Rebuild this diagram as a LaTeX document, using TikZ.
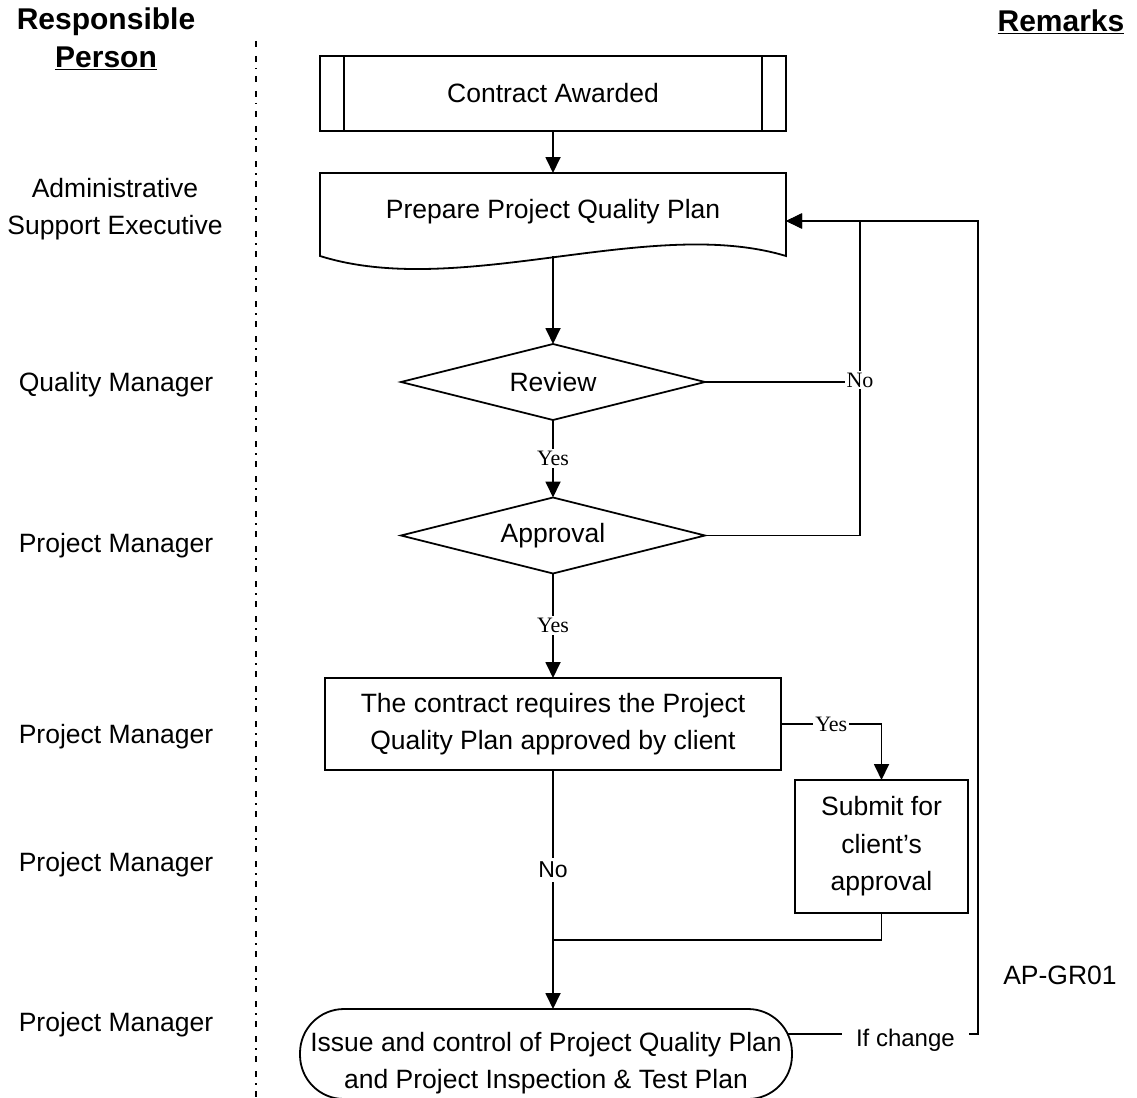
\documentclass[tikz,border=0pt]{standalone}
\usepackage{fontspec}
\setmainfont{Liberation Sans}
\newfontfamily\lblserif{Liberation Serif}
\usetikzlibrary{shapes.geometric,arrows.meta}
\begin{document}
\begin{tikzpicture}[x=1pt,y=-1pt,
  line width=1.8pt,
  every node/.style={inner sep=0pt,outer sep=0pt},
  big/.style={font=\fontsize{26.5}{37.5}\selectfont},
  head/.style={font=\fontsize{30}{34}\selectfont\bfseries},
  box/.style={draw,rectangle,big,align=center},
  dec/.style={draw,diamond,aspect=4,minimum width=304pt,minimum height=76pt,big},
  lbl/.style={fill=white,font=\lblserif\fontsize{22}{24}\selectfont,inner sep=2pt},
  slbl/.style={fill=white,font=\fontsize{23}{26}\selectfont,inner sep=4pt},
  arr/.style={-{Triangle[width=15pt,length=16pt]}},
  person/.style={big,align=center},
  lane/.style={line width=1.5pt,dash pattern=on 6pt off 9pt on 6pt off 6pt on 1.5pt off 6.5pt},
]
\useasboundingbox (0,0) rectangle (1137,1097);

% headers
\node[head] (h1) at (106,22) {Responsible};
\node[head] (h2) at (106,58) {\underline{Person}};
\node[head] (h3) at (1061,22) {\underline{Remarks}};
\draw[lane] (256,41) -- (256,1097);

% responsible persons
\node[person] (p1) at (115,209) {Administrative\\Support Executive};
\node[person] (p2) at (116,385) {Quality Manager};
\node[person] (p3) at (116,546) {Project Manager};
\node[person] (p4) at (116,737) {Project Manager};
\node[person] (p5) at (116,865) {Project Manager};
\node[person] (p6) at (116,1025) {Project Manager};
\node[big] (rm) at (1060,975) {AP-GR01};

% flow nodes
\node[box,minimum width=466pt,minimum height=75pt] (ca) at (553,93.5) {Contract Awarded};
\draw ([xshift=24pt]ca.north west) -- ([xshift=24pt]ca.south west);
\draw ([xshift=-24pt]ca.north east) -- ([xshift=-24pt]ca.south east);

\node[big,minimum width=466pt,minimum height=83pt] (prep) at (553,214.5) {};
\node[big] (prept) at (553,212) {Prepare Project Quality Plan};
\draw (prep.south east) .. controls (650,215) and (460,300) .. (prep.south west)
  -- (prep.north west) -- (prep.north east) -- cycle;

\node[dec] (rev) at (553,382) {Review};
\node[dec] (appr) at (553,535.5) {Approval};
\node[box,minimum width=456pt,minimum height=92pt] (cb) at (553,724)
  {The contract requires the Project\\Quality Plan approved by client};
\node[box,minimum width=173pt,minimum height=133pt] (sub) at (881.5,846.5)
  {Submit for\\client's\\approval};
\node[draw,rounded corners=44pt,minimum width=492pt,minimum height=90pt]
  (term) at (546,1054) {};
\node[big,align=center] (termt) at (546,1063) {Issue and control of Project Quality Plan\\and Project Inspection \& Test Plan};

\coordinate (j1) at (860,221);
\coordinate (j2) at (978,221);
\coordinate (j3) at (978,1034);
\coordinate (m) at (553,940);

% connectors
\draw[arr] (ca.south) -- (prep.north);
\draw[arr] (prep.south) -- (rev.north);
\draw[arr] (rev.south) -- node[lbl] (y1) {Yes} (appr.north);
\draw[arr] (appr.south) -- node[lbl] (y2) {Yes} (cb.north);
\draw (rev.east) -- (j1 |- rev.east);
\draw[arr] (appr.east) -| (j1) -- (j1 -| prep.east);
\node[lbl] (n1) at (860,380) {No};
\draw[arr] (cb.east) -- node[lbl] (y3) {Yes} (cb.east -| sub.north) -- (sub.north);
\draw[arr] (cb.south) -- node[slbl,pos=0.418] (n2) {No} (cb.south |- term.north);
\draw (sub.south) |- (m);
\draw[arr] ([xshift=-5pt,yshift=20pt]term.east) -- node[fill=white,font=\fontsize{24}{28}\selectfont,inner xsep=14pt,inner ysep=4pt,yshift=-6pt,pos=0.62] (ic) {If change} (j3) -- (j2) -- (j2 -| prep.east);
\end{tikzpicture}
\end{document}
